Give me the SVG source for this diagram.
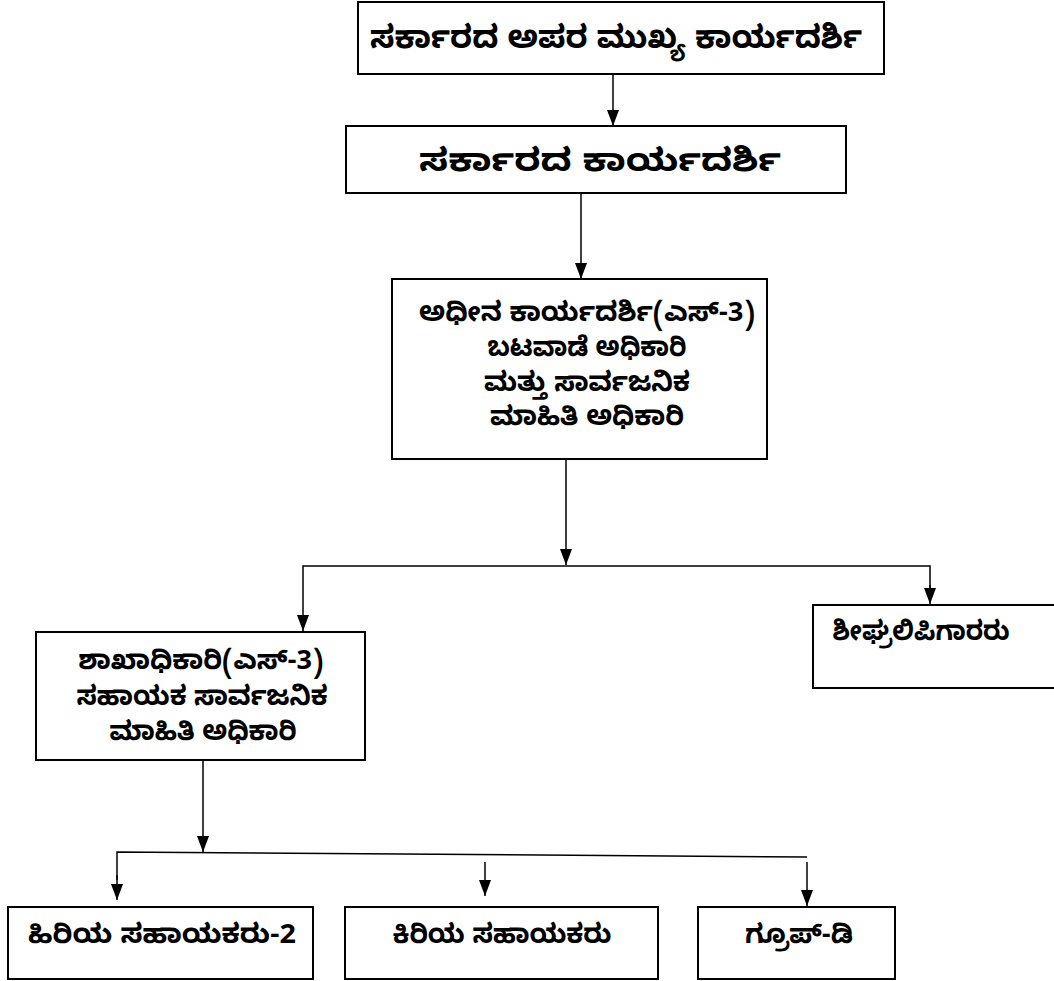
<svg xmlns="http://www.w3.org/2000/svg" width="1054" height="981" viewBox="0 0 1054 981">
<style>
.box{fill:#fff;stroke:#000;stroke-width:2}
.t{font-family:"Noto Sans Kannada","Noto Sans","DejaVu Sans",sans-serif;font-weight:bold;fill:#000;text-anchor:middle}
.big{font-size:32px}
.mid{font-size:27px}
.c{stroke:#000;stroke-width:1.5;fill:none}
</style>
<defs>
<marker id="ahd" viewBox="0 0 12 16" refX="6" refY="16" markerWidth="12" markerHeight="16" markerUnits="userSpaceOnUse" orient="0">
<path d="M0,0 L12,0 L6,16 Z" fill="#000"/>
</marker>
</defs>
<rect width="1054" height="981" fill="#fff"/>
<g id="connectors">
<line class="c" x1="613" y1="74" x2="613" y2="126" marker-end="url(#ahd)"/>
<line class="c" x1="581" y1="193" x2="581" y2="279" marker-end="url(#ahd)"/>
<line class="c" x1="566" y1="459" x2="566" y2="565" marker-end="url(#ahd)"/>
<polyline class="c" points="303,600 303,566 930,566 930,590"/>
<line class="c" x1="303" y1="600" x2="303" y2="631" marker-end="url(#ahd)"/>
<line class="c" x1="930" y1="585" x2="930" y2="604" marker-end="url(#ahd)"/>
<line class="c" x1="203" y1="760" x2="203" y2="852" marker-end="url(#ahd)"/>
<polyline class="c" points="117,880 117,852 807,857"/>
<line class="c" x1="117" y1="875" x2="117" y2="900" marker-end="url(#ahd)"/>
<line class="c" x1="485" y1="862" x2="485" y2="896" marker-end="url(#ahd)"/>
<line class="c" x1="807" y1="862" x2="807" y2="906" marker-end="url(#ahd)"/>
</g>
<g id="n1">
<rect class="box" x="358" y="2" width="526" height="72"/>
<text class="t big" x="616" y="48" textLength="492" lengthAdjust="spacingAndGlyphs">ಸರ್ಕಾರದ ಅಪರ ಮುಖ್ಯ ಕಾರ್ಯದರ್ಶಿ</text>
</g>
<g id="n2">
<rect class="box" x="346" y="126" width="500" height="67"/>
<text class="t big" x="600" y="171" textLength="362" lengthAdjust="spacingAndGlyphs">ಸರ್ಕಾರದ ಕಾರ್ಯದರ್ಶಿ</text>
</g>
<g id="n3">
<rect class="box" x="392" y="279" width="375" height="180"/>
<text class="t mid" x="587" y="321" textLength="336" lengthAdjust="spacingAndGlyphs">ಅಧೀನ ಕಾರ್ಯದರ್ಶಿ(ಎಸ್-3)</text>
<text class="t mid" x="587" y="356" textLength="199" lengthAdjust="spacingAndGlyphs">ಬಟವಾಡೆ ಅಧಿಕಾರಿ</text>
<text class="t mid" x="587" y="391" textLength="206" lengthAdjust="spacingAndGlyphs">ಮತ್ತು ಸಾರ್ವಜನಿಕ</text>
<text class="t mid" x="587" y="425" textLength="194" lengthAdjust="spacingAndGlyphs">ಮಾಹಿತಿ ಅಧಿಕಾರಿ</text>
</g>
<g id="n4">
<rect class="box" x="36" y="632" width="329" height="128"/>
<text class="t mid" x="201" y="669" textLength="245" lengthAdjust="spacingAndGlyphs">ಶಾಖಾಧಿಕಾರಿ(ಎಸ್-3)</text>
<text class="t mid" x="202" y="705" textLength="251" lengthAdjust="spacingAndGlyphs">ಸಹಾಯಕ ಸಾರ್ವಜನಿಕ</text>
<text class="t mid" x="203" y="740" textLength="187" lengthAdjust="spacingAndGlyphs">ಮಾಹಿತಿ ಅಧಿಕಾರಿ</text>
</g>
<g id="n5">
<rect class="box" x="813" y="605" width="250" height="83"/>
<text class="t mid" x="921" y="640" textLength="177" lengthAdjust="spacingAndGlyphs">ಶೀಘ್ರಲಿಪಿಗಾರರು</text>
</g>
<g id="n6">
<rect class="box" x="8" y="907" width="305" height="72"/>
<text class="t mid" x="162" y="943" textLength="268" lengthAdjust="spacingAndGlyphs">ಹಿರಿಯ ಸಹಾಯಕರು-2</text>
</g>
<g id="n7">
<rect class="box" x="345" y="907" width="313" height="72"/>
<text class="t mid" x="502" y="943" textLength="219" lengthAdjust="spacingAndGlyphs">ಕಿರಿಯ ಸಹಾಯಕರು</text>
</g>
<g id="n8">
<rect class="box" x="698" y="907" width="197" height="72"/>
<text class="t mid" x="799" y="943" textLength="108" lengthAdjust="spacingAndGlyphs">ಗ್ರೂಪ್-ಡಿ</text>
</g>
</svg>
